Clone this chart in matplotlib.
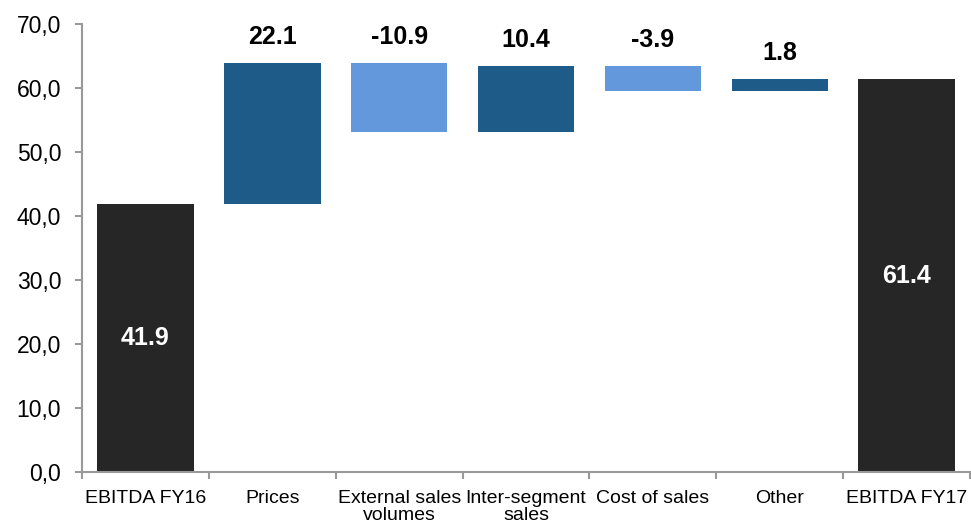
import matplotlib
import matplotlib.pyplot as plt
from matplotlib.ticker import FuncFormatter

matplotlib.rcParams['font.family'] = ['Liberation Sans', 'DejaVu Sans']

categories = ['EBITDA FY16', 'Prices', 'External sales\nvolumes', 'Inter-segment\nsales',
              'Cost of sales', 'Other', 'EBITDA FY17']
changes = [41.9, 22.1, -10.9, 10.4, -3.9, 1.8, 61.4]
is_total = [True, False, False, False, False, False, True]

dark = '#262626'
blue = '#1f5b88'
light = '#6399dc'

fig = plt.figure(figsize=(9.71, 5.25), dpi=100)
ax = fig.add_axes([0.0845, 0.101, 0.9145, 0.853])

running = 0.0
for i, (v, tot) in enumerate(zip(changes, is_total)):
    if tot:
        ax.bar(i, v, width=0.76, color=dark)
        ax.text(i, v / 2, f'{v:.1f}', ha='center', va='center', color='white',
                fontsize=18, fontweight='bold')
        running = v
    else:
        bottom = running if v > 0 else running + v
        ax.bar(i, abs(v), bottom=bottom, width=0.76, color=blue if v > 0 else light)
        top = max(running, running + v)
        ax.annotate(f'{v:.1f}', (i, top), xytext=(0, 10), textcoords='offset points',
                    ha='center', va='bottom', fontsize=18, fontweight='bold')
        running += v

ax.set_xlim(-0.5, len(categories) - 0.5)
ax.set_ylim(0, 70)
ax.set_yticks(range(0, 71, 10))
ax.yaxis.set_major_formatter(FuncFormatter(lambda y, _: f'{y:.1f}'.replace('.', ',')))

ax.set_xticks(range(len(categories)))
ax.set_xticklabels(categories, fontsize=14, linespacing=1.0)
ax.set_xticks([i - 0.5 for i in range(len(categories) + 1)], minor=True)
ax.tick_params(axis='x', which='major', length=0, pad=13)
ax.tick_params(axis='x', which='minor', length=5, width=1.5, color='#999999')
ax.tick_params(axis='y', length=5, width=1.5, color='#999999', labelsize=16.5, pad=10)

for s in ['top', 'right']:
    ax.spines[s].set_visible(False)
for s in ['left', 'bottom']:
    ax.spines[s].set_color('#999999')
    ax.spines[s].set_linewidth(1.5)

plt.savefig('out.png', dpi=100)
